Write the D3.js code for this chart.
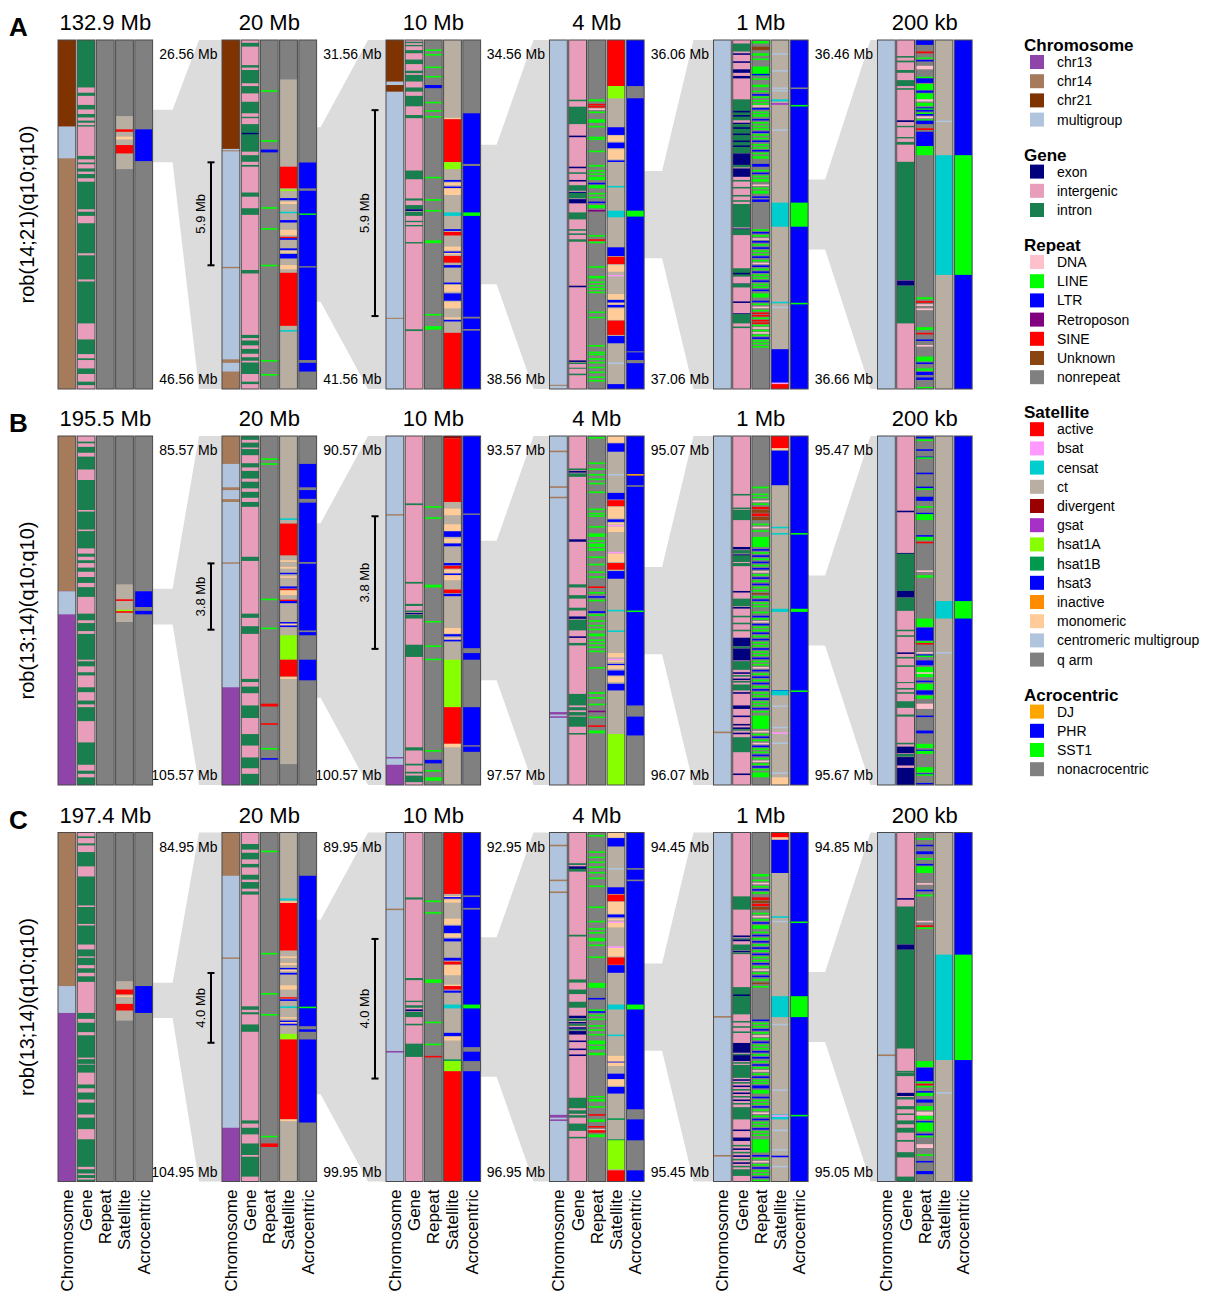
<!DOCTYPE html>
<html>
<head>
<meta charset="utf-8">
<script src="https://cdn.jsdelivr.net/npm/d3@7"></script>
<style>
  body { margin: 0; background: #fff; }
  svg { font-family: "Liberation Sans", Arial, Helvetica, sans-serif; }
</style>
</head>
<body>
<svg id="fig" width="1205" height="1299"></svg>
<script>

// ---- categories (single letter codes used in the track strings) ----
var trackNames = ["Chromosome", "Gene", "Repeat", "Satellite", "Acrocentric"]
var chromosomeCodes = {p: "chr13", t: "chr14", b: "chr21", m: "multigroup"}
var geneCodes = {e: "exon", g: "intergenic", i: "intron"}
var repeatCodes = {D: "DNA", L: "LINE", T: "LTR", R: "Retroposon", S: "SINE", U: "Unknown", n: "nonrepeat"}
var satelliteCodes = {a: "active", s: "bsat", c: "censat", t: "ct", d: "divergent", y: "gsat", h: "hsat1A", H: "hsat1B",
                      k: "hsat3", I: "inactive", o: "monomeric", m: "centromeric multigroup", q: "q arm"}
var acroCodes = {J: "DJ", P: "PHR", S: "SST1", n: "nonacrocentric"}

// ---- legend entries ----
var chromosomeLegend = ["chr13", "chr14", "chr21", "multigroup"]
var geneLegend = ["exon", "intergenic", "intron"]
var repeatLegend = ["DNA", "LINE", "LTR", "Retroposon", "SINE", "Unknown", "nonrepeat"]
var satelliteLegend = ["active", "bsat", "censat", "ct", "divergent", "gsat", "hsat1A", "hsat1B", "hsat3",
                       "inactive", "monomeric", "centromeric multigroup", "q arm"]
var acroLegend = ["DJ", "PHR", "SST1", "nonacrocentric"]

// ---- zoom windows (Mb) and labels ----
var panelTitles = [["132.9 Mb", "20 Mb", "10 Mb", "4 Mb", "1 Mb", "200 kb"],
                   ["195.5 Mb", "20 Mb", "10 Mb", "4 Mb", "1 Mb", "200 kb"],
                   ["197.4 Mb", "20 Mb", "10 Mb", "4 Mb", "1 Mb", "200 kb"]]
var rowA_windows = [[0, 132.9], [26.56, 46.56], [31.56, 41.56], [34.56, 38.56], [36.06, 37.06], [36.46, 36.66]]
var rowB_windows = [[0, 195.5], [85.57, 105.57], [90.57, 100.57], [93.57, 97.57], [95.07, 96.07], [95.47, 95.67]]
var rowC_windows = [[0, 197.4], [84.95, 104.95], [89.95, 99.95], [92.95, 96.95], [94.45, 95.45], [94.85, 95.05]]
var rowLetters = ["A", "B", "C"]
var rowNames = ["rob(14;21)(q10;q10)", "rob(13;14)(q10;q10)", "rob(13;14)(q10;q10)"]
var scaleBars = [[33.57, 39.47, "5.9 Mb"], [92.87, 96.67, "3.8 Mb"], [93.0, 97.0, "4.0 Mb"]]

// ---- track contents: first token = background, then code+start-end (percent of window), or code+pos for a thin line ----
var rowA_chromosome = [
  "t b0-24.8 m24.8-33.9",
  "m b0-31.2 t31.6-31.9 t65-65.4 t91.5-92.5 t95-100",
  "m b0-11.9 b12.9-14.8 t79.6-79.9",
  "m t98.8-99.1",
  "m",
  "m"]
var rowA_gene = [
  "i g13.6-15.1 g16-18.6 g19.9-21.2 g22.2-23.1 g23.7-24.4 g24.8-33.2 g34.2-35.1 g35.6-36.8 g37.7-38.4 g39.6-40.6 g48.5-49.2 g50.4-52.5 g61.1-61.7 g68.6-69.2 g81.2-85.8 g90-91.2 g91.7-94.1 g95.7-97.9 g98.9-100",
  "i g0-0.8 g1.9-7.2 g7.9-8.6 g12.4-13.2 g15.3-17.7 g21-22 g22.4-24.1 e26.6-27 g32-33 g34.9-35.8 g36.3-43.7 g44.9-48.2 g50.1-65.9 g66.9-84.5 g85.4-86.1 g87.5-88.5 g89.9-90.9 g91.9-92.4 g95.7-97.9 g98.6-100",
  "g i0.5-0.9 i1.4-1.8 i2.9-3.8 i5.6-6.9 i8.8-9.5 i10-11.9 i13.6-14.8 i16-19 i21.5-22.4 i37.4-39.9 i45.4-46 i47.3-48.5 e48.5-49 i49.2-50.4 i51.8-52.2 i53-53.4 i57.9-58.3 i82.9-83.4",
  "g i17.1 i19.1-24.1 e27.4 e36.3 i37.9 e40.1 i41.6-43.2 e43.5 i43.8-45.4 e45.6-46.8 i49.4-51.4 i54.2 i55.4 i57.1-57.8 e70.4 e91.8 i92.4 i93.9-94.2 i95.6",
  "g i1-3.3 e3.8 e6.1 e8.4-9.4 e10.3-11 i17-23 e20.3 e21.5 e23.7-24.1 i24.1-32.5 e25 e26.8 e28.8 e30.2 e32.5-35.8 i35.8-36.5 e36.8-39.2 i40.1 i42.1 i44.4 i45.9 i47-53.7 e54 i54.2-55.9 i65.4-67.8 e66.7 e69.8 i69.8-70.9 e74.9 e78.3 i78.5-81.2 i82.1",
  "g i4.6 i5.9-6.4 i8.6-9.4 i11.5-13.2 i13.8 e23-23.5 i24.6-25 i27.8-28.2 i29.2-30 i34.9-68.8 e68.9-70.4 i70.4-81.2"]
var rowA_repeat = [
  "n",
  "n L14.4 L28.7 T31.4-32.2 L47.9 L53.9 L64.4 L91.7 L95.7",
  "n L2.7 L4 L7.6 L10.3 T12.9-13.8 L17.7 L20.1 L21.8 L39.2 L45.6 L48.7 L57.4-58.2 L78.5 L82-83",
  "n L17-17.6 S18.3 S18.9 D19.6 L20.5 L22.7-23.7 L24.6 L27.7 L28.2 L31.7 L35.8-36.3 L37.3 L38.2 L39.2-40.1 T40.9 L41.6-42.5 L43.8 L44.9 T46.3 L47.3-48.2 R48.7 L55.9 S57.1 L57.8 L64.8 L67.6-68.3 L69.2 L70.2 L71.1 L72.1 L77.8 L79.3 L87.4 L89.3 L89.9 L91.2 L92.2 L93.6 L95 L96.4 L97.4",
  "n L0.3-1 U1.9-2.9 L3.8-4.5 L5.3 L7.6-10.3 T9.7 L11 L12.8-13.5 L14.5 T15.5 L16.2 L17.2 L18.1 D18.7 T19.5 L20.5 L21.3-22 T22.6 L23.5 L24.5 L25.3 T26.2 L27 L28 T28.8 L29.8 L30.7 T31.5 L32.3 L33.3-34 T35.5-36.3 L37.2 T38 L38.9 L39.8-40.6 D41.4 L42.3 L43.2-44 T44.8 T45.7-46.4 L54.2 T55 L55.9 D56.8 T57.6 L58.5 T59.4 L60.3 L61.2 T62 L63 D63.8 T64.6 L65.5 T66.3 L67.2 L68 T68.9 L69.8 L70.6 T71.5 L72.6-73.8 T74.7 L75.5 D76.4 L77.3 S78.1 S78.8 L79.5 S80.2 S80.9 L81.6 D82.3 L83 D83.7 L84.4 T85.2 L86 L86.8 L87.7",
  "n T0-1.4 S3.3-3.8 L5-5.4 T5.7 D7.4-8.4 L10.5 T11-12.3 L12.6-14.3 T14.5-15.1 L15.3-17 D17-17.6 L18-18.9 T19.3 L19.6 T20-20.5 L20.8 T21.2 D21.9-22.4 L22.7 T23.1-24.1 S25.3-25.8 T26.3-30.4 L30.4-33 L73.7-74.3 S74.8-75.3 D75.7-76.2 D76.9-77.4 L82.3-83.1 S83.9 T85.8 D87.4 L90.7-92.1 T92.4 L94.1-94.8 T95.1-96 T96.7-97.4 L99.4"]
var rowA_satellite = [
  "q t21.8-37 a25.6-26.3 o27.7-28.5 a30.1-32.5",
  "t q0-11.3 a36.3-42.5 h42.8 k45.3-45.9 o46.3-47 c49.2 k51.6-52.3 o54.4-55.9 a56.4 k56.8 k59.7-60.2 o60.5 k61.3-62.6 o64.5-65.7 a66.7-81.9 c83.1",
  "t o22.3-22.7 a22.7-35 h35-37 k40.1-40.6 o40.9-41.6 k42 o42.5-44.4 c49.4-50.4 k54.2-54.7 a55-56 o59.2-60.3 k60.6 o61 a61.9-63.8 k64.5-65.2 k69.5 o70.2-72.1 k72.6-74.7 o75-76.9 o79.5 k80.2 a83.9-100",
  "t a0-13.2 h13.2-16.7 k25-27.2 o27.4-29.1 k29.4-31 o31.3-34.2 k34.5 c41.8 c48.9-50.8 k59.4-61.9 a62.1-64.2 o64.5-66.4 s67.3 o72.8-74.3 k74.5-75.2 o75.4 k75.9-76.6 o76.9-80.2 a80.4-84.5 k84.8-86.9 m92.4 k98.6-100",
  "t m3.8 m8.6 m13.6 m14.3 c17-17.6 y18.1 m25.6 c46.6-53.5 c75 m76.4 k88.6-98.2 s98.2-98.6 a98.6-100",
  "t m23.1 c33-67.3"]
var rowA_acro = [
  "n P25.6-34.7",
  "n P35.1-42.5 P43.2-64.8 S49.7-50.1 P65.2-91.7 P92.5-95",
  "n P21-35.5 P36.1-79.3 S49.4-50.4 P79.8-82.8 P83.3-100",
  "P n13.2-16.7 S48.9-50.6 n89.2-89.5 n91.7-92.6",
  "P n13.6 S18.6 S46.6-53.5 S75.3",
  "P S33-67.3"]

var rowB_chromosome = [
  "p t0-44.5 m44.5-51.1",
  "m t0-8 t14.7-15.5 t18.1-18.9 t36.2-36.6 p72-100",
  "m t22.4-22.8 p92-92.4 p94.2-100",
  "m t4.2 t14.4 t17.4 p79.1-79.8 p80.3",
  "m t84.7",
  "m"]
var rowB_gene = [
  "i g0-1.6 g2.1-3.1 g4.8-5.9 g9.6-12.6 g21.2 g26.8 g32.2-33.7 g34.6-35.6 g36.4-37.7 g38.9-40.4 g42.1-43.3 g46.1-50.9 g52.8-53.6 g55.9-56.7 g64.1 g66-67.7 g68.6-72 g73.4-75.8 g76.9-77.7 g81.7-87.8 g94.2-95.9 g96.8-97.8",
  "i g1.1-1.9 g3.3 g5.5-7.8 g9-10 g12.2-13.1 g15-16 g17.7-18.9 g20.3-34.6 g35.8-50.9 g52.1-54.5 g56.7-69.6 g70.5-71.8 g73.7-77.2 g80.8-85.4 g88.7-92.1 g95.2-96.8",
  "g i19.3-19.8 i41.8-42.3 i48.1-48.7 i50-50.5 e50.7-51.1 i51.2-52.3 i59.8-63.3 i89.2-90.1 i93.9-94.4 i96.2-96.7 i97.3-99.2",
  "g i9.3-9.8 e10-10.5 i10.7-11.7 e29.6-30.3 i42.5-43.4 i45.6-46.6 i49.2-50 e51.7-52.4 i52.6-55.7 e57.4 i59.3-60 i73.9-77.2 i77.7-78.6 i79.1-80.1 i80.4-83.3 i85.1",
  "g i16.6 i20.5-21 i21.2-24.1 e31.8-32.5 i32.7-33.7 e33.9 i34.2-36.1 i36.4-37.3 e44.4 i46.6-48.8 e49 i51.5 i53.5 i55.5 e57.8-60.3 i60.3-60.9 e60.9-64.3 i64.5-67 e67.7 i68.5 e69.5 i70.2 i71.2-72.9 e73.4 e77.2-78.2 e80.1 e82.5 e83.5 i84 e85 i86.3-90.6 e96.7",
  "g e21.4 e33.5 i33.7-44.4 e44.4-46.3 i46.3-50.1 i55.5 i57.1 e62 i63.3 i65.7 i70.5-70.8 i72.2 i73.4 i76-77.9 i79.8-80.4 i87.9 e89-90.9 i91.1-91.9 e92-94.4 e95.1-100"]
var rowB_repeat = [
  "n",
  "n L6.4 L7.8 L46.6 L54.9 S76.7-77.5 S82.3 L89.4 T92.3",
  "n L20.1 L23.3 L42.6-43.4 L53 L60 L63.8 L90 T92.8-93.8 L95.7 L97.8-98.8",
  "n L0.3 L7.6 L9.3 L10.9 L12.2 L13.4 L15.9 L20.8 L22 L22.7 L25.8 L27.9-28.9 L29.9 L30.8-31.8 L32.2-32.9 L34.5 L36.6 L38.8 L40.2 S43.1 L44.7 T45.9 L46.9 T50.2-50.7 L51.1 L52.8 L54.1 L55.2 L56.6-57.4 L58.3 L59.2 L60.3 L61.5 L66.2 L73.4-73.9 L74.8 L76.7 R78.7 L80.4 S82.9 L84.4-85.2",
  "n L14.5-15 L16.5 L17.4 D18.5 L19.3 S20.3-21 U21.2-22 S22.2-23 U23.2-24.1 L25.1 D26 L27 L28.9-31.8 T32.4 L33.3 T34.2 L35.1 T36 L36.9 T37.8 D38.7 L39.6 T40.5 L41.4 T42.3 L43.2 L44.1 U45 L45.9 T46.8 L47.7 L48.6 L50.3-50.8 T51.5 L52.2 D53 T53.8 L54.6 L55.5 T56.3 L57.2 T58.1 L59 L59.9 T60.8 L61.7 L62.6 T63.5 L64.4 L65.3 D66.2 T67 L68 T68.9 L69.8 T70.7 L71.6 T72.5 L73.4 L74.3 T75.2 L76.1 L77 T77.9 L78.8 L80.1-83.9 D84.5 L85.3 T86.1 L87 D87.9 T88.7 L89.5 L90.4 T91.3 L92.2 D93 L93.8 T94.6 L95.4 L96.4-97.8",
  "n T0.2-0.7 L1 T3.8 T5.9 L6.1 T10.5 T14.5 L15 T17.4-18.6 L20.1 T22 L22.4-24.1 T28.4 L28.9-29.9 S30.3 D38.5 L39.9-40.6 L52.3-54.7 T54.9-58.6 L58.8 S59.3 D61.9 T62.6 L62.9 T64.3-65.7 L66.2-69.1 D67.7 T70.1 L71-72.7 T72.9-74.1 L74.4-75.3 D76.7-78.2 T80.1 T84.4-85.2 L88.2-89.4 T89.9 L90.2-91.1 L94.9-96.4 T96.7 L96.9 T99.4"]
var rowB_satellite = [
  "q t42.5-53.3 a46.8 h49.8 a50.2",
  "t q94-100 c23.6 a25.1-34.2 o35.6 o37.5-38 k39.2-39.6 o40.2 k43.1-43.7 a43.8 o44.2-45.6 a46.9 k47.3-47.9 k53.3 o53.8 k54.3 h57.1-64.1 a64.1-68.9 o69.1-69.6",
  "t d0-0.7 a0.7-18.9 o20.8-22.7 o25.3-27.2 k27.3-28.9 o29.4-30.6 k30.8-31.6 k36.4-37.1 a37.2-38 o38.3-39.2 k39.4 o39.9-41.3 a44-45 k45.2-45.9 o55-56.6 k56.8-57.4 o57.8 k58.4 h64.1-77.7 a77.7-88.2 o88.2-89.2",
  "t o0-1.9 k2.1-4.5 m10.9 k16.3-18.2 a18.4-20.1 o20.3-23.6 k23.9-24.6 o24.9 s25.5 o26-27.5 s33.2 o33.7-36.1 a36.4-38.3 k38.7-40.9 c49.8 c55.7 o62.2-63.4 s63.8 o64.3 k65.3 o65.7-66.7 k67.2-68.6 o68.9-70.5 k71-72.9 h85.4-100",
  "t a0-3.5 o3.5-4 k4.2-14.1 c26 c27.8 c49.5-50.4 k72.8 c72.9-74.3 m77.2 m83.3 s84.9 m87.8 m96.4 o97.8-100",
  "t c47.3-52.3 m61.9"]
var rowB_acro = [
  "n P44.5-49 P50.1-51.1",
  "n P8-14.7 P15.5-18 P19.1-36.1 P36.6-55.7 P56.2-57.1 P64.1-70",
  "P n22.2-22.6 n60.8-62.2 n64.1-77.7 n88.6-89 n90.5-100",
  "P J10.9 n14.1 S50 n77.2-80.4 n85.8-100",
  "P S27.8 S49.5-50.4 S72.9",
  "P S47.3-52.3"]

var rowC_chromosome = [
  "p t0-44 m44-51.7",
  "m t0-12.4 t35.8-36.2 p84.6-100",
  "m t21.8 p62.6",
  "m t3.5 t13.5 t16.9 p80.9-81.7 p82.2",
  "m t52.6 t92.4",
  "m t63.6"]
var rowC_gene = [
  "i g0-1.1 g1.6-3.1 g3.7-5.6 g9.7-12.6 g20.9 g26.2 g32.1-33.5 g35.5-35.9 g38-38.9 g40.2-41.2 g42.8-51.7 g53.4-54.5 g57.2-58.1 g64.5 g66.3-66.5 g68.8-72.2 g73.3-74.5 g76.5-77.4 g80.8-81.7 g85-87.9 g95.8-96.5 g97.7 g99",
  "i g0-3.3 g4.9-5.8 g7.7-9 g10-12.1 g13.5-14.2 g16.1-16.9 g17.8-49.8 g50.8-51.5 g52.1-55 g57.1-82.5 g83.4-84.6 g86.5-89.1 g92.4-92.9 g98.6-100",
  "g i18.6-19.2 i41.7-42.3 i48.2-48.6 i49.5-50.2 e50.7-51.2 i51.4-52.9 i54.8 i60.5-64.3",
  "g i8.8-9.3 e9.7 e10 i10.4-11.2 i29.3-29.8 i42.1-43 i45-46.3 i48.5-50.2 e52.5-53.2 i53.3-54 e54.3 i54.8-55.4 e55.8 i56.3 e56.9-57.9 e59.6 e61.9 e63.6 i76-79 i79.6-80.6 i81-81.7 i83.4-85.5 i87.2",
  "g i18.3-22.1 e29.5-30 i30.3 e30.7 i32.1-33.8 e33.9 i34.4 i44.3-52.1 e46.4 i54 i55.5 i57 e60.3-63.1 i63.4 e63.8-65.5 i65.8 i66.6-70.3 e70.7 i71.5 e72.5 i73.5 e74.5 i75.5 e76.5 i77.5 i78.7-82.2 e85.1 e87.4-88.4 i89.5 e90.5 i91.5 e92.5 i93.5 e94.5 i95.5 i96.5-98.4",
  "g e18.8 i21.2-32.1 e32.1-33.6 i33.6-61.9 i68.3 i68.8-69.8 e74.6-75.5 i75.8-76.5 i78.4-79.3 i80.5 i82.5-83.6 i84.6-86 i88.1-88.6 i91.6-93.1 i98.6-100"]
var rowC_repeat = [
  "n",
  "n L5.2 L34.5 L46 L52 L86.9 S89.1-90.1",
  "n L19.5 L22.8 L42.1-43.1 L54.2 L60.5 S64",
  "n L0.7 L5.4 L6.9 L8.3 L9.7 L11.3 L12.9 L15.2 L21.2 L25.3 L27.4 L28.5 L30.2-31.2 L32.1 L35.5 L43.1-44.5 T47.4 L50.7 T51.2 L52.2 L53.3 L55.2 L56.4 L57.7 L59.6-60.7 L61.2 L61.7 L63.1-63.8 L75.5 L76.4-77.1 L78.4 S80.7 L82.2-82.9 S84.1 D85 S85.3-86 L86.5-87.3",
  "n L11.9-12.6 L13.5 D14.4 L15.3 T16.2 L17.1 S18.6-19.3 U19.5-20.2 S20.4-21.1 U21.3-22.1 L23 D23.9 L24.8 T25.7 L26.6-27.6 L28.4 T29.3 L30.2 T31.1 L32 T32.9 L33.8 T34.7 L35.6 L36.5 T37.4 L38.3 D39.2 L40.1 T41 L42 U43 L44 T53.6 L54.5 L55.4 T56.3 L57.2 D58.1 L59 T59.9 L60.8 L61.7 T62.6 L63.5 T64.3-64.8 L65.5 T66.4 L67.2 D68.1 L69 T69.9 L70.8 L71.6 T72.5-73.3 L73.8-74.8 T75.7 L76.6 L77.5 T78.4 L79.3 D80.2 L81.1 T82 L82.9 L83.8 T84.7 L85.6 L86.5 L87.9-91.7 T92.4 L93.2 D94.1 L95 T95.9 L96.8 L97.7 T98.6 L99.5",
  "n L1.6-2.1 T3.5 T5.4-6.2 L7.3-7.8 T9 L9.7-11.6 D14.5 T16.4 L17.8-18.3 D25.3 S26.6 L27.2 L65.5-67.2 T67.4-71.2 L71.4 S72 L72.6 T74.1 L74.6-75.5 T76.5-77.4 L78.4-79.6 D80-81.1 L81.2-82.2 T82.7 L83.1-85.7 T86.3 L86.9 D89.3-90.4 L92.2 T94.1 T97-97.9"]
var rowC_satellite = [
  "q t42.6-53.9 a45-46.4 o46.7 a49.1-51",
  "t c18.9-19.5 o19.7 a20.2-33.8 o35.5 o37.4-38 k38.8 o39.3 k40.2-40.7 o43.8-45 a47.2-47.6 k47.8 c49.8-50.3 o52.9 k53.9 o54.3 k54.8 h57.7-59.3 a59.3-82.2 o82.2-82.7",
  "t a0-17.6 o18.2 k18.5 o19.2-20.1 o24.7-26.4 k26.7-28.8 o29.1-30 k30.4-31.2 k35.9-36.7 a37-37.8 o38-40.9 o43.6 a44-45 k45.3-45.9 c49.3-50.4 k57.4-58.3 o58.6-59.6 H65 h65.5-68.4 a68.4-100",
  "t o0-1.4 k1.6-4 m10.2 k15.7-17.6 a17.8-19.7 o19.9-23.3 k23.5-24.3 o24.7 s25.5 o25.9-27.2 s32.6 o33.1-35.5 a35.8-37.9 k38-40.2 c49.3-50.7 c57.9 o64-65.5 k65.7 o65.9-66.9 k69.1-70.7 o70.7-72.6 k72.9-74.8 H81.9 H87.9 h88.2-96.5 a96.8-100",
  "t a0-1.4 o1.4-2.1 k2.1-11.6 c24 m25.3 c46.9-52.9 m54.8 m73.6 c80.8-82.2 s81 m85.1-85.6 m90.7 k92.6 m95.5",
  "t c35-65.2 m74.4"]
var rowC_acro = [
  "n P44-51.7",
  "n P12.4-55.5 S49.9 P56.4-57.1 P59.3-83.1",
  "P n18-18.5 n21.6-22.1 S49.3-50.4 n61.5-62.8 n65.5-68.4",
  "P n10.2 n13.5 S49.3-50.7 n79.3-82.2 n88.2-96.8",
  "P S25.5 S46.9-52.9 S80.9",
  "P S35-65.2"]

// ---- styles ----
var colour = {
  chr13: "#8E44A8", chr14: "#A67B5B", chr21: "#7F3300", multigroup: "#B0C4DE",
  exon: "#00007F", intergenic: "#E89EBB", intron: "#1A7F4F",
  DNA: "#FFC0CB", LINE: "#00FF00", LTR: "#0000FF", Retroposon: "#800080", SINE: "#FF0000", Unknown: "#8B4513", nonrepeat: "#808080",
  active: "#FF0000", bsat: "#FF99FF", censat: "#00CDCD", ct: "#B8AFA2", divergent: "#990000", gsat: "#A630C8",
  hsat1A: "#88FF00", hsat1B: "#00994D", hsat3: "#0000FF", inactive: "#FF8C00", monomeric: "#FFCC99",
  "centromeric multigroup": "#B0C4DE", "q arm": "#808080",
  DJ: "#FFA500", PHR: "#0000FF", SST1: "#00FF00", nonacrocentric: "#808080"
}

var rows = [
  {windows: rowA_windows, tracks: [rowA_chromosome, rowA_gene, rowA_repeat, rowA_satellite, rowA_acro]},
  {windows: rowB_windows, tracks: [rowB_chromosome, rowB_gene, rowB_repeat, rowB_satellite, rowB_acro]},
  {windows: rowC_windows, tracks: [rowC_chromosome, rowC_gene, rowC_repeat, rowC_satellite, rowC_acro]}]
var codeMaps = [chromosomeCodes, geneCodes, repeatCodes, satelliteCodes, acroCodes]

// layout
var panelX = [58, 222, 386, 549.5, 713.5, 877.5]
var rowTop = [40, 436, 832.5]
var trackH = 349, trackW = 17.8, trackStep = 19.2
var panelW = 4 * trackStep + trackW
var gapShape = [[20, 23], [4, 18], [16, 16], [18, 20], [17, 7]]
var lineW = 0.45
var fmt = d3.format(".2f")

var svg = d3.select("#fig")

function parseTrack(str) {
  var tok = str.trim().split(/\s+/)
  var segs = [[0, 100, tok[0]]]
  tok.slice(1).forEach(function(t) {
    var m = t.match(/^([A-Za-z])([\d.]+)(?:-([\d.]+))?$/)
    var a = +m[2], b = m[3] ? +m[3] : a + lineW
    segs.push([a, b, m[1]])
  })
  return segs
}

rows.forEach(function(row, r) {
  var top = rowTop[r], bot = top + trackH
  var g = svg.append("g").attr("class", "row")

  // zoom connectors
  row.windows.forEach(function(w, p) {
    if (p == 0) return
    var prev = d3.scaleLinear().domain(row.windows[p - 1]).range([top, bot])
    var x1 = panelX[p - 1] + panelW, x2 = panelX[p]
    var h = gapShape[p - 1][0], v = gapShape[p - 1][1]
    var pts = [[x1, prev(w[0])], [x1 + h, prev(w[0])], [x2 - v, top], [x2, top],
               [x2, bot], [x2 - v, bot], [x1 + h, prev(w[1])], [x1, prev(w[1])]]
    g.append("polygon").attr("points", pts.join(" ")).attr("fill", "#dcdcdc")

    // window coordinates
    g.append("text").attr("x", x2 - 4.5).attr("y", top + 19)
      .attr("text-anchor", "end").attr("font-size", 14).text(fmt(w[0]) + " Mb")
    g.append("text").attr("x", x2 - 4.5).attr("y", bot - 5)
      .attr("text-anchor", "end").attr("font-size", 14).text(fmt(w[1]) + " Mb")
  })

  // panels
  row.windows.forEach(function(w, p) {
    var y = d3.scaleLinear().domain([0, 100]).range([top, bot])
    var x = d3.scaleLinear().domain([0, 1]).range([panelX[p], panelX[p] + trackStep])
    var pg = g.append("g").attr("class", "panel")

    pg.append("text").attr("x", panelX[p] + panelW / 2).attr("y", top - 10)
      .attr("text-anchor", "middle").attr("font-size", 22).text(panelTitles[r][p])

    row.tracks.forEach(function(trackList, k) {
      var segs = parseTrack(trackList[p])
      var codes = codeMaps[k]
      pg.append("g").selectAll("rect")
        .data(segs)
        .enter().append("rect")
        .attr("x", x(k))
        .attr("width", trackW)
        .attr("y", function(d) { return y(d[0]) })
        .attr("height", function(d) { return Math.max(0.5, y(Math.min(100, d[1])) - y(d[0])) })
        .attr("fill", function(d) { return colour[codes[d[2]]] })
      pg.append("rect").attr("x", x(k)).attr("y", top).attr("width", trackW).attr("height", trackH)
        .attr("fill", "none").attr("stroke", "#4a4a4a").attr("stroke-width", 1)
    })

    // scale bar on the 20 Mb and 10 Mb panels
    if (p == 1 || p == 2) {
      var mb = d3.scaleLinear().domain(w).range([top, bot])
      var sb = scaleBars[r]
      var bx = panelX[p] - 11, y0 = mb(sb[0]), y1 = mb(sb[1])
      pg.append("line").attr("x1", bx).attr("x2", bx).attr("y1", y0).attr("y2", y1)
        .attr("stroke", "#000").attr("stroke-width", 2)
      ;[y0, y1].forEach(function(yy) {
        pg.append("line").attr("x1", bx - 3.5).attr("x2", bx + 3.5).attr("y1", yy).attr("y2", yy)
          .attr("stroke", "#000").attr("stroke-width", 2)
      })
      pg.append("text").attr("transform", "translate(" + (panelX[p] - 22) + "," + ((y0 + y1) / 2) + ") rotate(-90)")
        .attr("text-anchor", "middle").attr("dy", "0.35em").attr("font-size", 13).text(sb[2])
    }

    // track names under the last row
    if (r == rows.length - 1) {
      trackNames.forEach(function(name, k) {
        pg.append("text")
          .attr("transform", "translate(" + (x(k) + trackW / 2) + "," + (bot + 8) + ") rotate(-90)")
          .attr("text-anchor", "end").attr("dy", "0.35em").attr("font-size", 17).text(name)
      })
    }
  })

  // row letter and name
  g.append("text").attr("x", 9).attr("y", top - 4).attr("font-size", 26).attr("font-weight", "bold").text(rowLetters[r])
  g.append("text").attr("transform", "translate(27," + (top + trackH / 2) + ") rotate(-90)")
    .attr("text-anchor", "middle").attr("dy", "0.35em").attr("font-size", 20).text(rowNames[r])
})

// legend
var legendGroups = [["Chromosome", chromosomeLegend], ["Gene", geneLegend], ["Repeat", repeatLegend],
                    ["Satellite", satelliteLegend], ["Acrocentric", acroLegend]]
var lg = svg.append("g").attr("class", "legend")
var ly = 45
legendGroups.forEach(function(grp) {
  lg.append("text").attr("x", 1024).attr("y", ly + 6).attr("font-size", 17).attr("font-weight", "bold").text(grp[0])
  grp[1].forEach(function(name, i) {
    var cy = ly + 17 + i * 19.2
    lg.append("rect").attr("x", 1030).attr("y", cy - 7).attr("width", 14).attr("height", 14).attr("fill", colour[name])
    lg.append("text").attr("x", 1057).attr("y", cy + 5).attr("font-size", 14).text(name)
  })
  ly = ly + 17 + (grp[1].length - 1) * 19.2 + 35
})

</script>
</body>
</html>
